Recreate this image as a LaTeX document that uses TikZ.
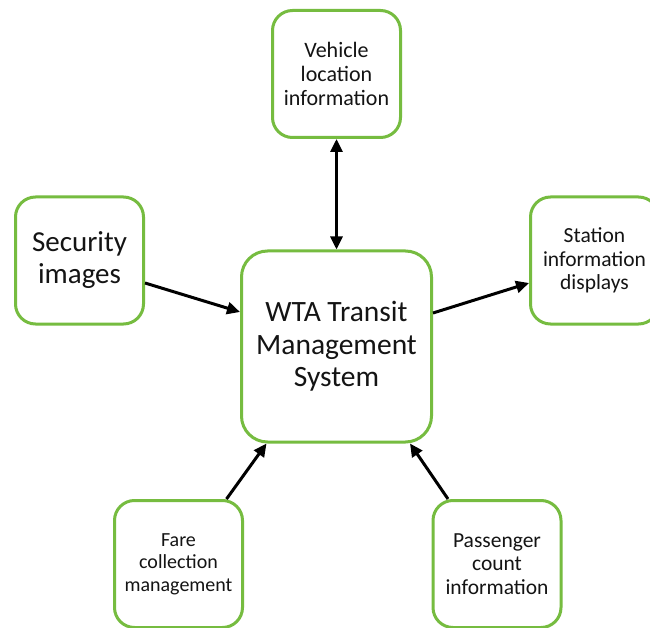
\documentclass[tikz,border=0pt]{standalone}
\usepackage{fontspec}
\setmainfont{Carlito}
\usetikzlibrary{arrows.meta,calc}
\definecolor{boxgreen}{RGB}{118,188,64}
\definecolor{txt}{RGB}{20,20,20}
\tikzset{
  box/.style={draw=boxgreen, line width=3pt, rounded corners=20pt, fill=white,
    minimum width=128pt, minimum height=127pt, align=center, text=txt, inner sep=2pt},
  bigbox/.style={box, rounded corners=26pt, minimum width=190pt, minimum height=191pt},
  conn/.style={line width=3pt, -{Triangle[length=13pt,width=12pt]}},
  dconn/.style={line width=3pt, {Triangle[length=13pt,width=12pt]}-{Triangle[length=13pt,width=12pt]}}
}
\begin{document}
\begin{tikzpicture}[x=1pt,y=-1pt]
\clip (0,0) rectangle (650,628);
\fill[white] (0,0) rectangle (650,628);
\node[bigbox, font=\fontsize{29.5}{32.5}\selectfont] (wta) at (336.5,346.5) {WTA Transit\\Management\\System};
\node[box, font=\fontsize{22}{24}\selectfont] (veh) at (336.5,74) {Vehicle\\location\\information};
\node[box, font=\fontsize{29}{32}\selectfont] (sec) at (79.5,260.5) {Security\\images};
\node[box, font=\fontsize{21.5}{23.5}\selectfont] (sta) at (594.5,260.5) {Station\\information\\displays};
\node[box, font=\fontsize{20}{22.5}\selectfont] (fare) at (178.5,564) {Fare\\collection\\management};
\node[box, font=\fontsize{21.5}{23.5}\selectfont] (pas) at (497,564) {Passenger\\count\\information};
\draw[dconn] (veh.south) -- (wta.north);
\draw[conn] ([yshift=-22.5pt]sec.east) -- ([yshift=34.5pt]wta.west);
\draw[conn] ([yshift=33.5pt]wta.east) -- ([yshift=-22.5pt]sta.west);
\draw[conn] ([xshift=48pt]fare.north) -- ([xshift=-70pt]wta.south);
\draw[conn] ([xshift=-49pt]pas.north) -- ([xshift=73.5pt]wta.south);
\end{tikzpicture}
\end{document}
